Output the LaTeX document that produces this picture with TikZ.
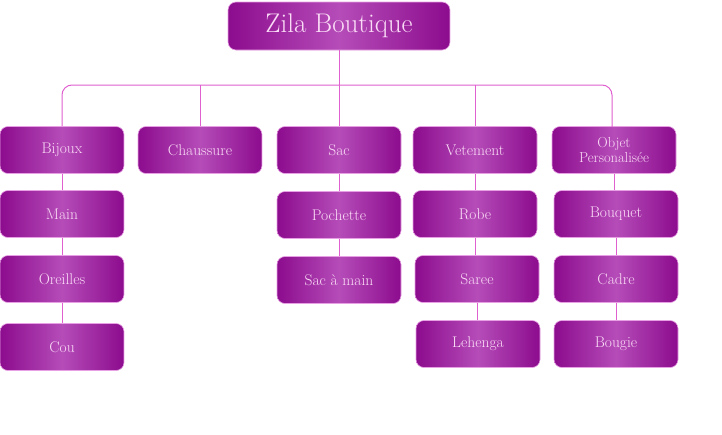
\documentclass[tikz,border=0pt]{standalone}
\usepackage{fontspec}
\setmainfont{Latin Modern Roman}
\begin{document}
\definecolor{boxdark}{HTML}{8C0C8E}
\definecolor{boxlight}{HTML}{B54CB8}
\definecolor{boxtext}{HTML}{FADCF6}
\definecolor{linkpink}{HTML}{E060D0}
\definecolor{boxrim}{HTML}{E8A0E4}
\begin{tikzpicture}[x=1pt,y=-1pt,
  card/.style={draw=boxrim, line width=0.6pt, rounded corners=8pt,
    left color=boxdark, right color=boxdark, middle color=boxlight,
    text=boxtext, font=\fontsize{15.5}{15}\selectfont, align=center,
    minimum width=124pt, minimum height=47pt, inner sep=0pt},
  titlecard/.style={card, minimum width=222pt, minimum height=48pt,
    font=\fontsize{27}{27}\selectfont},
  link/.style={draw=linkpink, line width=1pt}]
\useasboundingbox (0,0) rectangle (722,434);

% root
\node[titlecard] (root) at (339,26) {Zila Boutique};

% first level
\node[card] (bij) at (62,150) {Bijoux};
\node[card] (cha) at (200,150) {Chaussure};
\node[card] (sac) at (339,150) {Sac};
\node[card] (vet) at (475,150) {Vetement};
\node[card, font=\fontsize{14.5}{13}\selectfont] (obj) at (614,150) {Objet\\Personalisée};

% Bijoux column
\node[card] (main) at (62,214) {Main};
\node[card] (ore) at (62,279) {Oreilles};
\node[card] (cou) at (62,347) {Cou};

% Sac column
\node[card] (poc) at (339,215) {Pochette};
\node[card] (sam) at (339,280) {Sac à main};

% Vetement column
\node[card] (rob) at (475,214) {Robe};
\node[card] (sar) at (477,279) {Saree};
\node[card] (leh) at (478,344) {Lehenga};

% Objet column
\node[card] (bou) at (616,214) {Bouquet};
\node[card] (cad) at (616,279) {Cadre};
\node[card] (bgi) at (616,344) {Bougie};

% branch bar
\draw[link, rounded corners=10pt] (bij.north) -- (62,85) -- (612,85) -- (612,127);
\draw[link] (root.south) -- (sac.north);
\draw[link] (cha.north) -- (200,85);
\draw[link] (vet.north) -- (475,85);

% column links
\draw[link] (bij) -- (main);
\draw[link] (main) -- (ore);
\draw[link] (ore) -- (cou);
\draw[link] (sac) -- (poc);
\draw[link] (poc) -- (sam);
\draw[link] (vet.south) -- (rob.north);
\draw[link] (rob.south) -- (sar.north -| rob.south);
\draw[link] (sar.south) -- (leh.north -| sar.south);
\draw[link] (obj.south) -- (bou.north -| obj.south);
\draw[link] (bou) -- (cad);
\draw[link] (cad) -- (bgi);
\end{tikzpicture}
\end{document}
